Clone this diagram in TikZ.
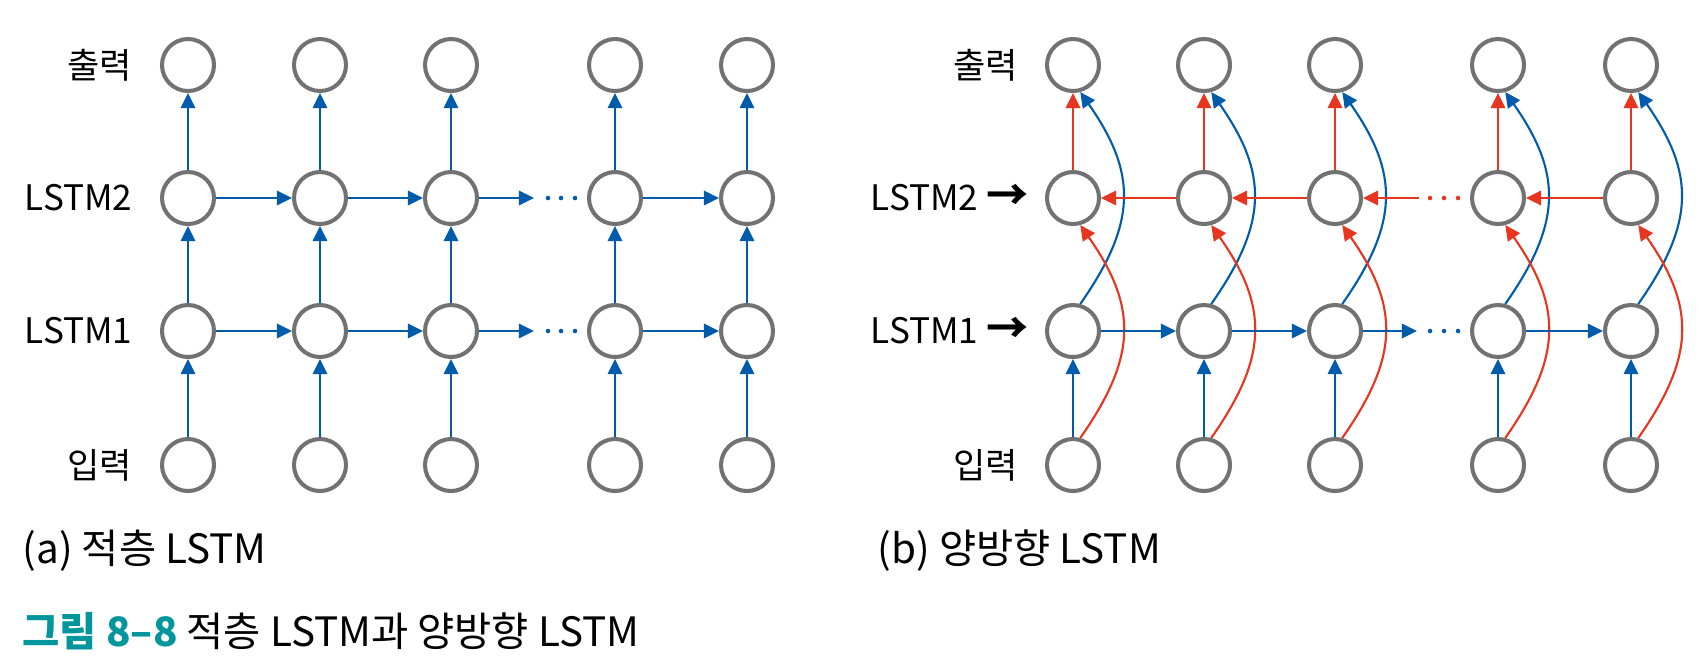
\documentclass[tikz,border=0pt]{standalone}
\usepackage{fontspec}
\setmainfont{Noto Sans CJK KR}
\usetikzlibrary{arrows.meta}
\definecolor{lstmblue}{HTML}{005BAA}
\definecolor{lstmred}{HTML}{E8351F}
\definecolor{cellgray}{HTML}{727272}
\definecolor{figteal}{HTML}{00969C}

\begin{document}
\begin{tikzpicture}[x=0.1mm,y=-0.1mm,
  cell/.style={circle,draw=cellgray,line width=1.15pt,minimum size=5.2mm},
  fwd/.style={draw=lstmblue,line width=0.6pt,-{Triangle[length=4.3pt,width=4.1pt]}},
  bwd/.style={fwd,draw=lstmred},
  lbl/.style={anchor=east,font=\fontsize{10}{12}\selectfont},
  captext/.style={anchor=west,font=\fontsize{11.5}{14}\selectfont}]
\tikzstyle{every node}+=[inner sep=0pt]
\useasboundingbox (0,0) rectangle (1700,662);
% (a) stacked
\foreach \x [count=\i] in {188,320,451,615,747} {
  \node[cell] (ain\i) at (\x,465) {};
  \node[cell] (al1\i) at (\x,331) {};
  \node[cell] (al2\i) at (\x,198) {};
  \node[cell] (aout\i) at (\x,65) {};
  \draw[fwd] (ain\i) -- (al1\i);
  \draw[fwd] (al1\i) -- (al2\i);
  \draw[fwd] (al2\i) -- (aout\i);
}
\foreach \k/\y in {1/331,2/198} {
  \coordinate (agap\k) at (534,\y);
  \draw[fwd] (al\k1) -- (al\k2);
  \draw[fwd] (al\k2) -- (al\k3);
  \draw[fwd] (al\k3) -- (agap\k);
  \draw[fwd] (al\k4) -- (al\k5);
  \foreach \d in {548,561,575} \fill[lstmblue] (\d,\y) circle (0.65pt);
}
\node[lbl] (aoutlbl) at (133,65) {출력};
\node[lbl] (al2lbl) at (133,198) {LSTM2};
\node[lbl] (al1lbl) at (133,331) {LSTM1};
\node[lbl] (ainlbl) at (133,465) {입력};
\node[captext] (capa) at (22,551) {(a) 적층 LSTM};
% (b) bidirectional
\foreach \x [count=\i] in {1073,1204,1335,1498,1631} {
  \node[cell] (bin\i) at (\x,465) {};
  \node[cell] (bl1\i) at (\x,331) {};
  \node[cell] (bl2\i) at (\x,198) {};
  \node[cell] (bout\i) at (\x,65) {};
  \draw[fwd] (bin\i) -- (bl1\i);
  \draw[fwd] (bl1\i.75) to[out=55,in=-55,looseness=1.2] (bout\i.-75);
  \draw[bwd] (bl2\i) -- (bout\i);
  \draw[bwd] (bin\i.75) to[out=55,in=-55,looseness=1.2] (bl2\i.-75);
}
\coordinate (bgap1) at (1417,331);
\coordinate (bgap2) at (1419,198);
\draw[fwd] (bl11) -- (bl12);
\draw[fwd] (bl12) -- (bl13);
\draw[fwd] (bl13) -- (bgap1);
\draw[fwd] (bl14) -- (bl15);
\draw[bwd] (bl25) -- (bl24);
\draw[bwd] (bgap2) -- (bl23);
\draw[bwd] (bl23) -- (bl22);
\draw[bwd] (bl22) -- (bl21);
\foreach \d in {1430,1444,1458} {
  \fill[lstmblue] (\d,331) circle (0.65pt);
  \fill[lstmred] (\d,198) circle (0.65pt);
}
\node[lbl] (boutlbl) at (1019,65) {출력};
\node[lbl] (bl2lbl) at (1029,198) {LSTM2 {\fontsize{12}{12}\selectfont\bfseries →}};
\node[lbl] (bl1lbl) at (1029,331) {LSTM1 {\fontsize{12}{12}\selectfont\bfseries →}};
\node[lbl] (binlbl) at (1019,465) {입력};
\node[captext] (capb) at (877,551) {(b) 양방향 LSTM};
% caption
\node[captext] (figcap) at (22,631) {{\color{figteal}\bfseries 그림 8–8} 적층 LSTM과 양방향 LSTM};
\end{tikzpicture}
\end{document}
